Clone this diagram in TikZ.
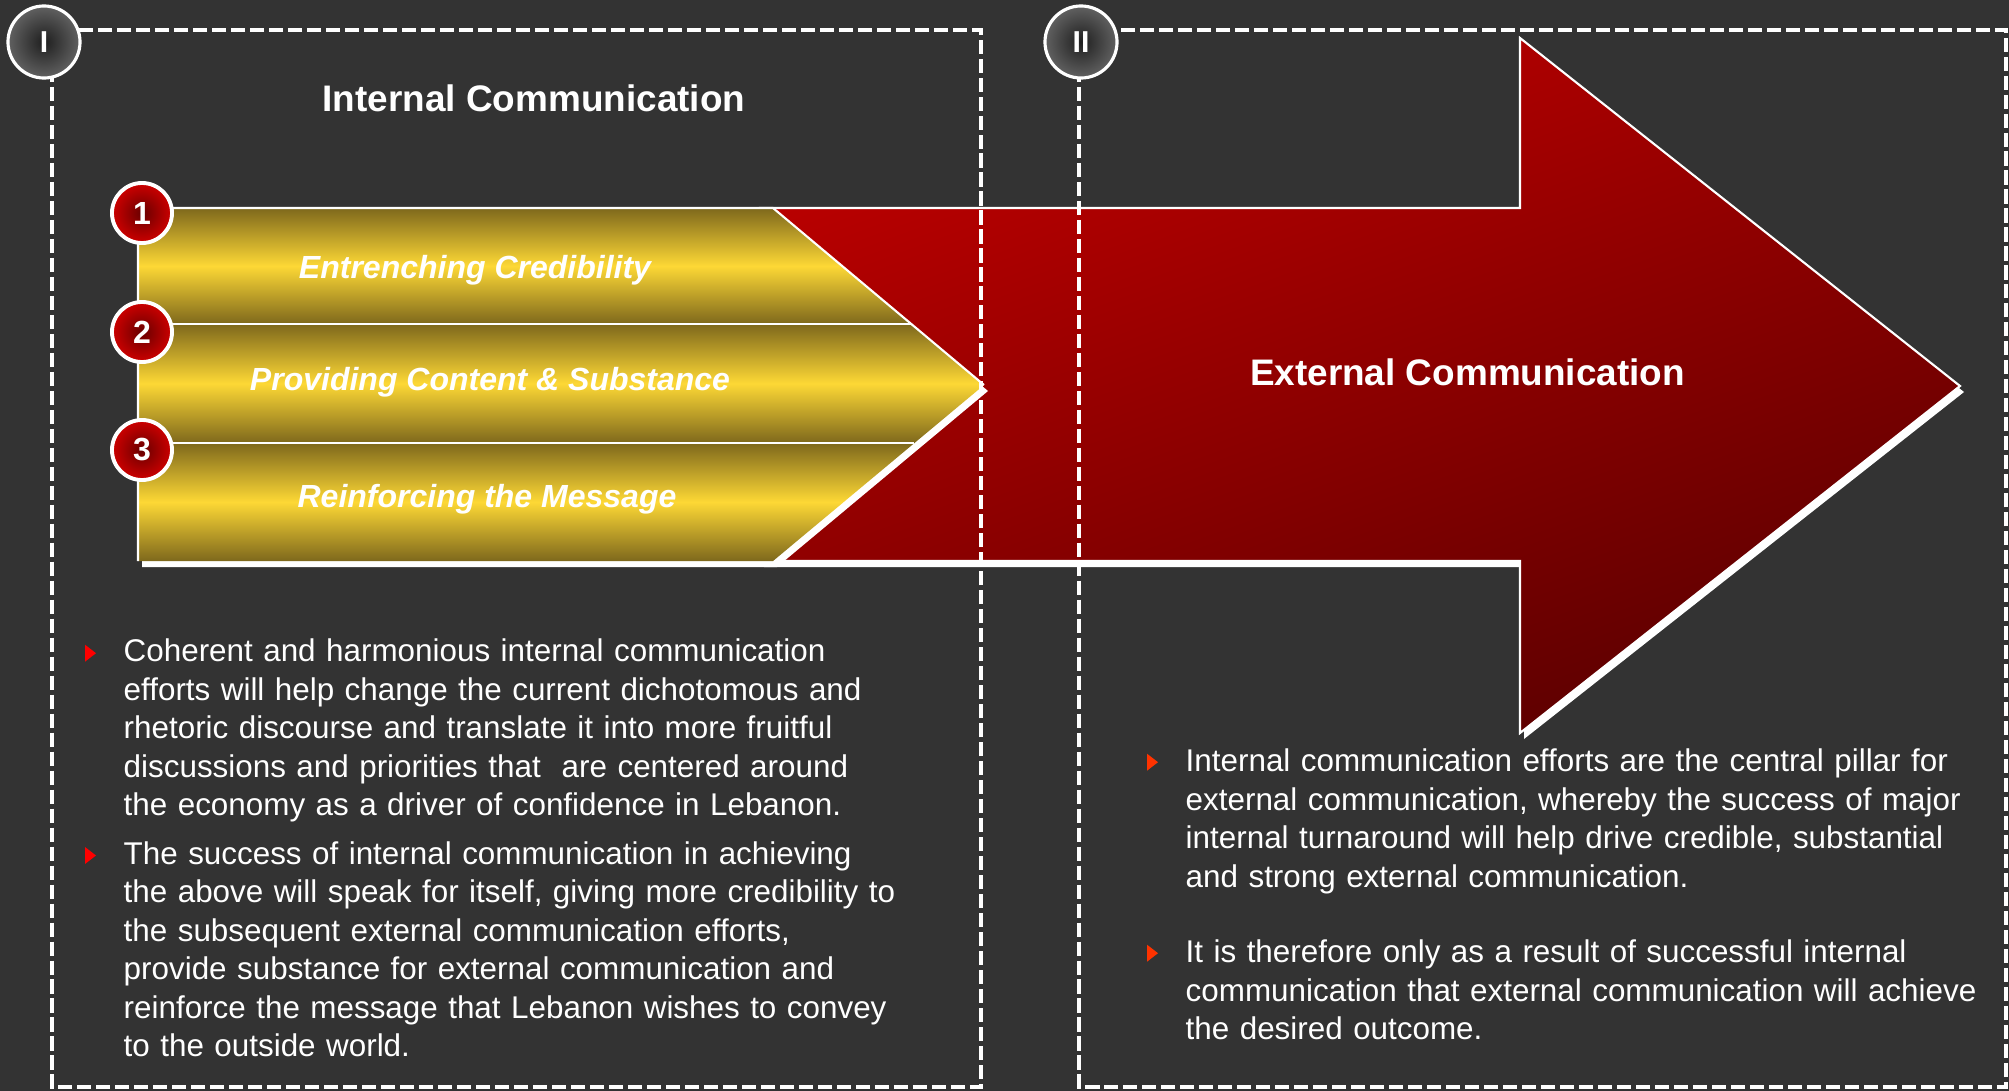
\documentclass[tikz,border=0pt]{standalone}
\usepackage{fontspec}
\setmainfont{Liberation Sans}
\usepackage{tikz}
\usetikzlibrary{calc}

\definecolor{bgcol}{HTML}{333333}
\definecolor{olive}{HTML}{7E681C}
\definecolor{gold}{HTML}{FDD835}
\definecolor{redtop}{HTML}{BE0000}
\definecolor{redbot}{HTML}{5C0000}
\definecolor{numin}{HTML}{680000}
\definecolor{numout}{HTML}{CE0000}
\definecolor{ptred}{HTML}{FF0000}
\definecolor{ptorange}{HTML}{FF3300}

\tikzset{
  frame/.style={white, line width=0.9pt, dash pattern=on 4pt off 1.4pt},
  roman/.style={circle, draw=white, line width=0.9pt, inner color=black!88,
    outer color=black!62, minimum size=0.72cm, inner sep=0, text=white,
    font=\bfseries\fontsize{8.6pt}{9pt}\selectfont},
  num/.style={circle, draw=white, line width=1.1pt, inner color=numin,
    outer color=numout, minimum size=0.6cm, inner sep=0, text=white,
    font=\bfseries\fontsize{9.1pt}{10pt}\selectfont},
  head/.style={text=white, inner sep=0, font=\bfseries\fontsize{10.5pt}{12pt}\selectfont},
  band/.style={text=white, inner sep=0, font=\bfseries\itshape\fontsize{9.1pt}{10pt}\selectfont},
  para/.style={text=white, inner sep=0, text width=8.2cm, align=left,
    font=\fontsize{8.93pt}{10.95pt}\selectfont},
  pics/pt/.style={code={\fill (0,0) -- (11,-8.5) -- (0,-17) -- cycle;}}
}

\begin{document}
\begin{tikzpicture}[x=0.01cm,y=-0.01cm]

  % 背景
  \fill[bgcol] (0,0) rectangle (2009,1091);
  \useasboundingbox (0,0) rectangle (2009,1091);

  % 红色箭头
  \fill[white, shift={(4,6)}] (760,208) -- (1520,208) -- (1520,38) -- (1960,386)
    -- (1520,733) -- (1520,561) -- (760,561) -- cycle;
  \shade[top color=redtop, bottom color=redbot, shading angle=20, draw=white, line width=0.6pt]
    (760,208) -- (1520,208) -- (1520,38) -- (1960,386)
    -- (1520,733) -- (1520,561) -- (760,561) -- cycle;
  \node[head] (ext) at (1467.5,385) [anchor=base] {External Communication};

  % 黄色部分
  \fill[white, shift={(4,6)}] (138,208) -- (773,208) -- (984,385) -- (773,561) -- (138,561) -- cycle;
  \begin{scope}
    \clip (138,208) -- (773,208) -- (984,385) -- (773,561) -- (138,561) -- cycle;
    \foreach \ya/\yb in {208/324,324/443,443/561}  {
      \shade[top color=olive, bottom color=olive, middle color=gold] (130,\ya) rectangle (990,\yb);
    }
  \end{scope}
  \draw[white, line width=0.6pt] (138,561) -- (138,208) -- (773,208) -- (984,385);
  \draw[white, line width=0.8pt] (138,324) -- (912,324);
  \draw[white, line width=0.8pt] (138,443) -- (914,443);

  \node[band] (b1) at (475,278) [anchor=base] {Entrenching Credibility};
  \node[band] (b2) at (490,390) [anchor=base] {Providing Content \& Substance};
  \node[band] (b3) at (487,507) [anchor=base] {Reinforcing the Message};

  \foreach \y [count=\i] in {213,332,450}  {
    \node[num] (n\i) at (142,\y) {\i};
  }

  % 左侧文字
  \node[head] (int) at (534,111.7) [anchor=base] {Internal Communication};

  \node[para, anchor=base west] (p1) at (123,661.7) {Coherent and harmonious internal communication\\
    efforts will help change the current dichotomous and\\
    rhetoric discourse and translate it into more fruitful\\
    discussions and priorities that\ \ are centered around\\
    the economy as a driver of confidence in Lebanon.};
  \node[para, anchor=base west] (p2) at (123,864) {The success of internal communication in achieving\\
    the above will speak for itself, giving more credibility to\\
    the subsequent external communication efforts,\\
    provide substance for external communication and\\
    reinforce the message that Lebanon wishes to convey\\
    to the outside world.};
  \pic[ptred] at ($(p1.base west)+(-38,0)$) {pt};
  \pic[ptred] at ($(p2.base west)+(-38,0)$) {pt};

  % 右侧文字
  \node[para, anchor=base west] (q1) at (1185,771.7) {Internal communication efforts are the central pillar for\\
    external communication, whereby the success of major\\
    internal turnaround will help drive credible, substantial\\
    and strong external communication.};
  \node[para, anchor=base west] (q2) at (1185,962.7) {It is therefore only as a result of successful internal\\
    communication that external communication will achieve\\
    the desired outcome.};
  \pic[ptorange] at ($(q1.base west)+(-38,-1)$) {pt};
  \pic[ptorange] at ($(q2.base west)+(-38,-1)$) {pt};

  % 虚线框
  \draw[frame] (52,30) rectangle (981,1087);
  \draw[frame] (1079,30) rectangle (2006,1087);

  \node[roman] (r1) at (44,42) {I};
  \node[roman] (r2) at (1081,42) {II};

\end{tikzpicture}
\end{document}
